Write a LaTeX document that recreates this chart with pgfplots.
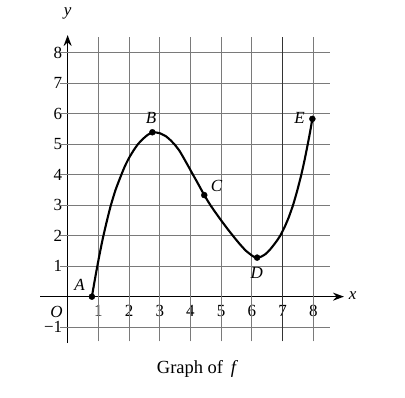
\documentclass[border=0pt]{standalone}
\usepackage{pgfplots}
\pgfplotsset{compat=1.18}
\usetikzlibrary{arrows.meta}
\usepackage{fontspec}
\setmainfont{Liberation Serif}
\begin{document}
\begin{tikzpicture}[every node/.style={font=\fontsize{17}{20}\selectfont}]
\useasboundingbox (-40pt,-54pt) rectangle (365pt,343pt);
\begin{axis}[
  at={(0,0)}, anchor=south west,
  scale only axis, width=304pt, height=308pt,
  xmin=-0.9, xmax=9.0, ymin=-1.52, ymax=8.58,
  axis lines=middle,
  axis line style={line width=1.6pt, -{Stealth[length=11pt,width=8pt]}},
  xtick={1,2,3,4,5,6,7,8},
  xticklabels={1,2,3,4,5,6,7,8},
  ytick={-1,1,2,3,4,5,6,7,8},
  yticklabels={−1,1,2,3,4,5,6,7,8},
  major tick length=0pt,
  xticklabel style={anchor=north, yshift=-5pt, font=\fontsize{17}{20}\selectfont},
  yticklabel style={anchor=east, xshift=-2pt, font=\fontsize{17}{20}\selectfont},
  clip=false,
]
% grid
\foreach \yy in {-1,1,2,3,4,5,6,7,8} {
  \edef\tmp{\noexpand\draw[black!52, line width=0.9pt] (axis cs:-0.25,\yy) -- (axis cs:8.55,\yy);}\tmp
}
\foreach \xx in {1,2,3,4,5,6,8} {
  \edef\tmp{\noexpand\draw[black!52, line width=0.9pt] (axis cs:\xx,-1.47) -- (axis cs:\xx,8.5);}\tmp
}
\draw[black!80, line width=1pt] (axis cs:7,-1.47) -- (axis cs:7,8.5);

\addplot[black, line width=2.1pt, smooth, tension=0.3] coordinates {
(0.79,0) (0.88,0.52) (0.97,1.02) (1.06,1.49) (1.15,1.93) (1.27,2.45) (1.40,2.97) (1.56,3.5)
(1.75,4.0) (1.87,4.29) (2.0,4.55) (2.15,4.80) (2.29,5.0) (2.45,5.17) (2.6,5.30) (2.76,5.39)
(2.9,5.38) (3.0,5.36) (3.2,5.26) (3.35,5.13) (3.5,4.97) (3.65,4.77) (3.8,4.51) (3.95,4.24)
(4.07,4.02) (4.2,3.79) (4.33,3.55) (4.45,3.33) (4.55,3.16) (4.65,3.0) (4.8,2.78) (5.0,2.50)
(5.2,2.23) (5.42,1.95) (5.6,1.73) (5.8,1.51) (6.0,1.35) (6.08,1.30) (6.17,1.28)
(6.3,1.31) (6.45,1.40) (6.58,1.53) (6.7,1.68) (6.82,1.84) (6.94,2.03) (7.07,2.29) (7.2,2.6)
(7.34,3.0) (7.47,3.45) (7.61,4.0) (7.71,4.45) (7.81,4.95) (7.89,5.37) (7.97,5.83)
};
\addplot[only marks, mark=*, mark size=3pt, black] coordinates {
(0.79,0) (2.76,5.39) (4.45,3.33) (6.17,1.28) (7.97,5.83)
};
\node at (axis cs:0.39,0.38) {\textit{A}};
\node at (axis cs:2.72,5.87) {\textit{B}};
\node at (axis cs:4.85,3.64) {\textit{C}};
\node at (axis cs:6.16,0.78) {\textit{D}};
\node at (axis cs:7.55,5.87) {\textit{E}};
\node at (axis cs:-0.36,-0.5) {\textit{O}};
\node at (axis cs:9.28,0.03) {\textit{x}};
\node at (axis cs:0.0,9.28) {\textit{y}};
\node at (axis cs:4.23,-2.36) {\fontsize{18.5}{21}\selectfont Graph of \,\textit{f}};
\end{axis}
\end{tikzpicture}
\end{document}
